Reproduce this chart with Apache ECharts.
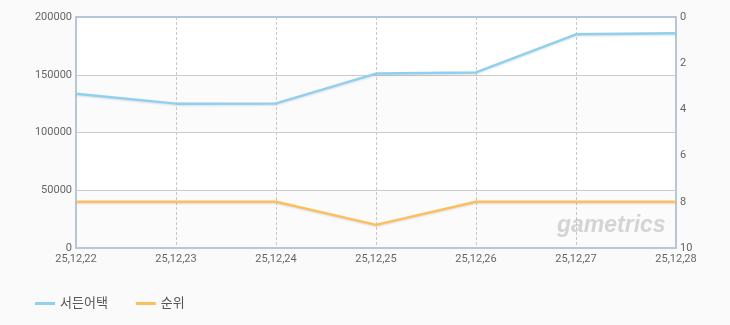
<!DOCTYPE html>
<html><head><meta charset="utf-8">
<script src="https://cdn.jsdelivr.net/npm/echarts@6/dist/echarts.min.js"></script>
<style>html,body{margin:0;padding:0;background:#fafafa;}#c{width:730px;height:325px;}</style>
</head><body><div id="c"></div>
<script>
const categories = ['25,12,22','25,12,23','25,12,24','25,12,25','25,12,26','25,12,27','25,12,28'];
const users = [133500, 125000, 125200, 151000, 152000, 185000, 186000];
const rank = [8, 8, 8, 9, 8, 8, 8];
const seriesNames = ['서든어택', '순위'];

const chart = echarts.init(document.getElementById('c'));
const font = 'Roboto, "Noto Sans CJK KR", sans-serif';
const frame = {show: true, lineStyle: {color: '#b5c7d9', width: 2}};
chart.setOption({
  backgroundColor: '#fafafa',
  animation: false,
  grid: {left: 76, top: 17, right: 54, bottom: 77},
  legend: {left: 30, top: 292, itemWidth: 20, itemHeight: 3, itemGap: 28, icon: 'rect',
    textStyle: {color: '#555', fontSize: 13, fontFamily: font},
    data: seriesNames},
  xAxis: [
    {type: 'category', data: categories, boundaryGap: false,
     axisLine: frame, axisTick: {show: false},
     axisLabel: {color: '#666', fontSize: 11, fontFamily: font, margin: 6, interval: 0},
     splitLine: {show: true, lineStyle: {color: '#c8c8c8', type: [3, 2]}}},
    {type: 'category', data: categories, boundaryGap: false, position: 'top',
     axisLine: frame, axisTick: {show: false}, axisLabel: {show: false}, splitLine: {show: false}}
  ],
  yAxis: [
    {type: 'value', min: 0, max: 200000, interval: 50000,
     axisLine: frame, axisTick: {show: false},
     axisLabel: {color: '#666', fontSize: 11, fontFamily: font, margin: 4, formatter: v => String(v)},
     splitLine: {lineStyle: {color: '#cccccc'}},
     splitArea: {show: true, areaStyle: {color: ['#fbfbfb', '#ffffff']}}},
    {type: 'value', min: 0, max: 10, interval: 2, inverse: true, position: 'right',
     axisLine: frame, axisTick: {show: false},
     axisLabel: {color: '#666', fontSize: 11, fontFamily: font, margin: 4},
     splitLine: {show: false}}
  ],
  graphic: [{type: 'text', left: 557, top: 214, z: 1,
    style: {text: 'gametrics', font: 'italic bold 23px "Liberation Sans", sans-serif', fill: 'rgba(140,140,140,0.35)'}}],
  series: [
    {name: seriesNames[0], type: 'line', data: users, yAxisIndex: 0, symbol: 'none', z: 3,
     color: '#8fd0f0', lineStyle: {width: 2.5, color: '#8fd0f0', shadowColor: 'rgba(0,0,0,0.12)', shadowBlur: 2, shadowOffsetY: 1}},
    {name: seriesNames[1], type: 'line', data: rank, yAxisIndex: 1, symbol: 'none', z: 3,
     color: '#fdbf5e', lineStyle: {width: 2.5, color: '#fdbf5e', shadowColor: 'rgba(0,0,0,0.12)', shadowBlur: 2, shadowOffsetY: 1}}
  ]
});
</script></body></html>
